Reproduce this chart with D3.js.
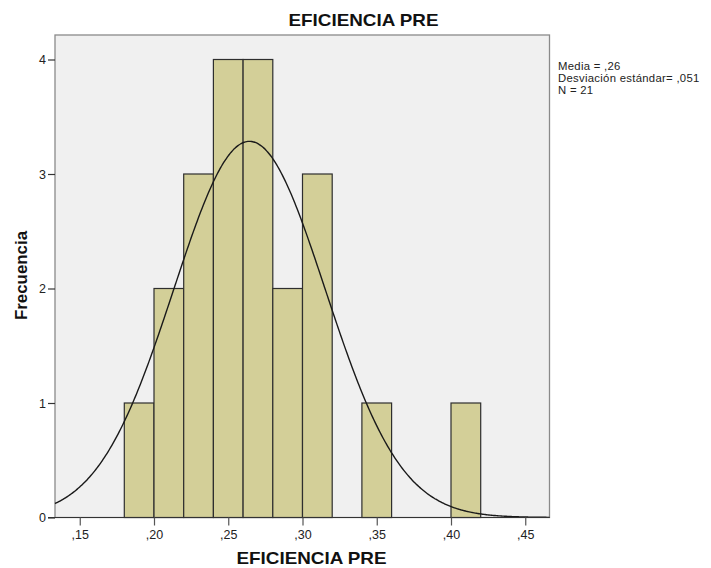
<!DOCTYPE html>
<html>
<head>
<meta charset="utf-8">
<script src="https://cdn.jsdelivr.net/npm/d3@7"></script>
<style>
  html, body { margin: 0; padding: 0; background: #ffffff; }
  svg { display: block; font-family: "Liberation Sans", Arial, sans-serif; }
</style>
</head>
<body>
<svg id="chart" width="711" height="568"></svg>
<script>
// Histogram bins of EFICIENCIA PRE (lower edge) and counts
const binStarts = [0.18, 0.20, 0.22, 0.24, 0.26, 0.28, 0.30, 0.32, 0.34, 0.36, 0.38, 0.40];
const binWidth = 0.02;
const counts = [1, 2, 3, 4, 4, 2, 3, 0, 1, 0, 0, 1];

// Axis ticks
const xTicks = [0.15, 0.20, 0.25, 0.30, 0.35, 0.40, 0.45];
const xTickLabels = [",15", ",20", ",25", ",30", ",35", ",40", ",45"];
const yTicks = [0, 1, 2, 3, 4];

// Summary statistics shown in the legend and used for the normal curve
const mean = 0.2643;
const sd = 0.051;
const n = 21;
const statLines = ["Media = ,26", "Desviación estándar= ,051", "N = 21"];

const svg = d3.select("#chart");
const plot = { left: 55, right: 549.5, top: 35, bottom: 517.5 };

const x = d3.scaleLinear().domain([0.20, 0.40]).range([154, 451]);
const xDomain = [x.invert(plot.left), x.invert(plot.right)];
const y = d3.scaleLinear().domain([0, 4]).range([plot.bottom, 59.5]);

// Plot background and frame
svg.append("rect")
  .attr("x", plot.left).attr("y", plot.top)
  .attr("width", plot.right - plot.left).attr("height", plot.bottom - plot.top)
  .attr("fill", "#f0f0f0")
  .attr("stroke", "#8a8a8a").attr("stroke-width", 1.3);

// Bars
svg.append("g").selectAll("rect")
  .data(binStarts.map((s, i) => ({ s, c: counts[i] })).filter(d => d.c > 0))
  .join("rect")
  .attr("x", d => x(d.s))
  .attr("y", d => y(d.c))
  .attr("width", d => x(d.s + binWidth) - x(d.s))
  .attr("height", d => y(0) - y(d.c))
  .attr("fill", "#d3cf98")
  .attr("stroke", "#2e2e2e")
  .attr("stroke-width", 1.2);

// Fitted normal curve scaled to counts (N * bin width * density)
const curvePts = d3.range(0, 401).map(i => {
  const v = xDomain[0] + (xDomain[1] - xDomain[0]) * i / 400;
  const z = (v - mean) / sd;
  return [v, n * binWidth * Math.exp(-0.5 * z * z) / (sd * Math.sqrt(2 * Math.PI))];
});
svg.append("path")
  .datum(curvePts)
  .attr("fill", "none")
  .attr("stroke", "#1a1a1a")
  .attr("stroke-width", 1.4)
  .attr("d", d3.line().x(d => x(d[0])).y(d => y(d[1])).curve(d3.curveBasis));

// Bottom axis line
svg.append("line")
  .attr("x1", plot.left - 7).attr("x2", plot.right)
  .attr("y1", plot.bottom).attr("y2", plot.bottom)
  .attr("stroke", "#333").attr("stroke-width", 1.2);

// X axis
const xAxis = svg.append("g")
  .attr("transform", `translate(0,${plot.bottom})`)
  .call(d3.axisBottom(x).tickValues(xTicks).tickFormat((d, i) => xTickLabels[i]).tickSize(8).tickSizeOuter(0).tickPadding(5));
xAxis.select(".domain").remove();
xAxis.selectAll(".tick line").attr("stroke", "#555").attr("stroke-width", 1.2);
xAxis.selectAll(".tick text").attr("font-size", 12.5).attr("fill", "#222")
  .attr("font-family", "'Liberation Sans', Arial, sans-serif");

// Y axis
const yAxis = svg.append("g")
  .attr("transform", `translate(${plot.left},0)`)
  .call(d3.axisLeft(y).tickValues(yTicks).tickFormat(d3.format("d")).tickSize(7).tickSizeOuter(0).tickPadding(2));
yAxis.select(".domain").remove();
yAxis.selectAll(".tick line").attr("stroke", "#333").attr("stroke-width", 1.2);
yAxis.selectAll(".tick text").attr("font-size", 12.5).attr("fill", "#222")
  .attr("font-family", "'Liberation Sans', Arial, sans-serif");

// Titles
svg.append("text")
  .attr("x", 363.5).attr("y", 26)
  .attr("text-anchor", "middle")
  .attr("font-size", 17).attr("font-weight", "bold").attr("fill", "#111")
  .attr("textLength", 150).attr("lengthAdjust", "spacingAndGlyphs")
  .text("EFICIENCIA PRE");

svg.append("text")
  .attr("x", 311.5).attr("y", 564)
  .attr("text-anchor", "middle")
  .attr("font-size", 16.5).attr("font-weight", "bold").attr("fill", "#111")
  .attr("textLength", 150).attr("lengthAdjust", "spacingAndGlyphs")
  .text("EFICIENCIA PRE");

svg.append("text")
  .attr("transform", "translate(26.5,275.5) rotate(-90)")
  .attr("text-anchor", "middle")
  .attr("font-size", 16.5).attr("font-weight", "bold").attr("fill", "#111")
  .attr("textLength", 89).attr("lengthAdjust", "spacingAndGlyphs")
  .text("Frecuencia");

// Summary statistics
svg.append("g").selectAll("text")
  .data(statLines)
  .join("text")
  .attr("x", 558)
  .attr("y", (d, i) => 70 + i * 12)
  .attr("font-size", 11.3)
  .attr("letter-spacing", 0.3)
  .attr("fill", "#222")
  .text(d => d);
</script>
</body>
</html>
